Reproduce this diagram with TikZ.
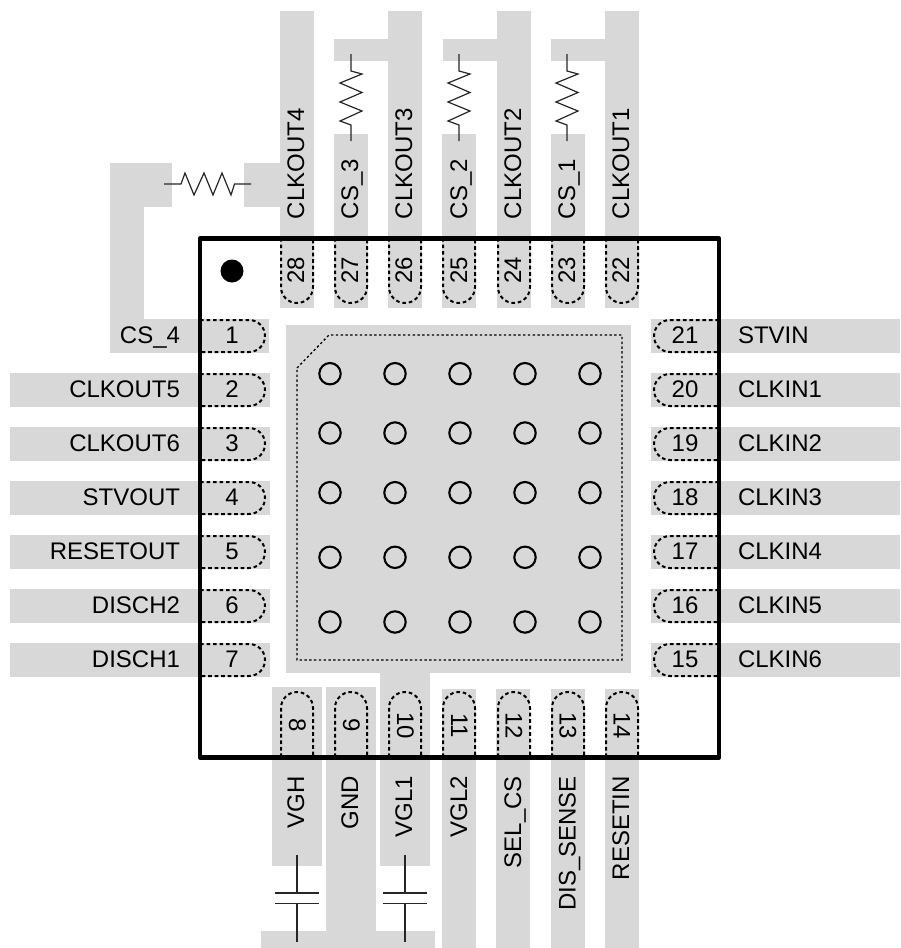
\documentclass[tikz,border=0pt]{standalone}
\usepackage{fontspec}
\setmainfont{Liberation Sans}
\definecolor{cu}{HTML}{D8D8D8}
\tikzset{
  x=1pt,y=-1pt,
  copper/.style={fill=cu,draw=none},
  padline/.style={draw=black,line width=2pt,dash pattern=on 3.6pt off 2.9pt,rounded corners=15.9pt},
  epadline/.style={draw=black,line width=1.3pt,dash pattern=on 2.4pt off 2.4pt},
  chipline/.style={draw=black,line width=4.6pt,line join=round},
  via/.style={draw=black,line width=2.1pt},
  part/.style={draw=black!85,line width=1.2pt},
  lbl/.style={inner sep=0pt,outer sep=0pt,font=\fontsize{24}{28}\selectfont,text=black},
  lblV/.style={lbl,rotate=90,anchor=base west},
  lblVb/.style={lbl,rotate=90,anchor=base east},
  lblL/.style={lbl,anchor=base east},
  lblR/.style={lbl,anchor=base west},
  numH/.style={lbl,anchor=base},
  numU/.style={lbl,rotate=90,anchor=base},
  numD/.style={lbl,rotate=-90,anchor=base},
}
\begin{document}
\begin{tikzpicture}
\useasboundingbox (0,0) rectangle (900,948);
% ---- copper: top
\fill[copper] (280,11) rectangle (314,308);
\fill[copper] (334,134) rectangle (368,308);
\fill[copper] (388,11) rectangle (422,308);
\fill[copper] (442,134) rectangle (476,308);
\fill[copper] (497,11) rectangle (531,308);
\fill[copper] (551,134) rectangle (585,308);
\fill[copper] (605,11) rectangle (639,308);
\fill[copper] (334,39) rectangle (388,61);
\fill[copper] (443,39) rectangle (497,61);
\fill[copper] (551,39) rectangle (605,61);
% ---- copper: CS_4 route
\fill[copper] (244,163) rectangle (280,207);
\fill[copper] (110,163) rectangle (172,207);
\fill[copper] (110,163) rectangle (144,319);
% ---- copper: left and right
\fill[copper] (110,319) rectangle (269,353);
\foreach \y in {373,427,481,535,589,643}{
  \fill[copper] (10,\y) rectangle (270,\y+34);
}
\foreach \y in {319,373,427,481,535,589,643}{
  \fill[copper] (651,\y) rectangle (900,\y+34);
}
% ---- copper: exposed pad
\fill[copper] (286,325) rectangle (631,673);
% ---- copper: bottom
\fill[copper] (272,687) rectangle (322,866);
\fill[copper] (326,687) rectangle (376,931);
\fill[copper] (380,673) rectangle (430,866);
\fill[copper] (261,931) rectangle (435,948);
\fill[copper] (442,689) rectangle (476,948);
\fill[copper] (496,689) rectangle (530,948);
\fill[copper] (551,689) rectangle (585,948);
\fill[copper] (605,689) rectangle (639,948);
% ---- exposed pad outline and vias
\draw[epadline] (297,368) -- (329,335) -- (622,335) -- (622,660) -- (297,660) -- cycle;
\foreach \vy in {373.7,433,492.7,557.3,622}{
  \foreach \vx in {330,395,460,525,590}{
    \draw[via] (\vx,\vy) circle[radius=10.7pt];
  }
}
% ---- pad outlines
\foreach \y in {320,374,428,482,536,590,644}{
  \draw[padline] (200,\y) -- (265,\y) -- (265,\y+32) -- (200,\y+32);
  \draw[padline] (719,\y) -- (654,\y) -- (654,\y+32) -- (719,\y+32);
}
\foreach \x in {297,351,405,459,514,568,622}{
  \draw[padline] (\x-16,238) -- (\x-16,303) -- (\x+16,303) -- (\x+16,238);
  \draw[padline] (\x-16,757) -- (\x-16,692) -- (\x+16,692) -- (\x+16,757);
}
% ---- package
\draw[chipline] (200,238.7) rectangle (719,757.3);
\fill[black] (232,271) circle[radius=11.5pt];
% ---- resistors
\draw[part] (164,184) -- (181,184) -- (185,173) -- (194,195) -- (204,173) -- (213,195) -- (222,173) -- (231,195) -- (234.5,184) -- (251,184);
\foreach \rx in {351,459,567}{
  \draw[part] (\rx,54) -- (\rx,71) -- (\rx+11,74) -- (\rx-11,83) -- (\rx+11,92.5) -- (\rx-11,102) -- (\rx+11,111) -- (\rx-11,121) -- (\rx,125) -- (\rx,141);
}
% ---- capacitors
\foreach \cx in {297,405}{
  \draw[part] (\cx,855) -- (\cx,893);
  \draw[part] (\cx-22,893) -- (\cx+22,893);
  \draw[part] (\cx-22,903.5) -- (\cx+22,903.5);
  \draw[part] (\cx,903.5) -- (\cx,942);
}
% ---- top labels
\node[lblV] (tCLKOUT4) at (304,219) {CLKOUT4};
\node[lblV] (tCSthree) at (358,219) {CS\_3};
\node[lblV] (tCLKOUT3) at (412,219) {CLKOUT3};
\node[lblV] (tCStwo) at (467,219) {CS\_2};
\node[lblV] (tCLKOUT2) at (521,219) {CLKOUT2};
\node[lblV] (tCSone) at (575,219) {CS\_1};
\node[lblV] (tCLKOUT1) at (629,219) {CLKOUT1};
% ---- top numbers
\node[numU] (n28) at (304,270.5) {28};
\node[numU] (n27) at (358,270.5) {27};
\node[numU] (n26) at (412,270.5) {26};
\node[numU] (n25) at (467,270.5) {25};
\node[numU] (n24) at (521,270.5) {24};
\node[numU] (n23) at (575,270.5) {23};
\node[numU] (n22) at (629,270.5) {22};
% ---- left labels and numbers
\node[lblL] (lCSfour) at (180,343) {CS\_4};
\node[lblL] (lCLKOUT5) at (180,397) {CLKOUT5};
\node[lblL] (lCLKOUT6) at (180,451) {CLKOUT6};
\node[lblL] (lSTVOUT) at (180,505) {STVOUT};
\node[lblL] (lRESETOUT) at (180,559) {RESETOUT};
\node[lblL] (lDISCH2) at (180,613) {DISCH2};
\node[lblL] (lDISCH1) at (180,667) {DISCH1};
\node[numH] (n1) at (232,343) {1};
\node[numH] (n2) at (232,397) {2};
\node[numH] (n3) at (232,451) {3};
\node[numH] (n4) at (232,505) {4};
\node[numH] (n5) at (232,559) {5};
\node[numH] (n6) at (232,613) {6};
\node[numH] (n7) at (232,667) {7};
% ---- right labels and numbers
\node[lblR] (rSTVIN) at (738,343) {STVIN};
\node[lblR] (rCLKIN1) at (738,397) {CLKIN1};
\node[lblR] (rCLKIN2) at (738,451) {CLKIN2};
\node[lblR] (rCLKIN3) at (738,505) {CLKIN3};
\node[lblR] (rCLKIN4) at (738,559) {CLKIN4};
\node[lblR] (rCLKIN5) at (738,613) {CLKIN5};
\node[lblR] (rCLKIN6) at (738,667) {CLKIN6};
\node[numH] (n21) at (685,343) {21};
\node[numH] (n20) at (685,397) {20};
\node[numH] (n19) at (685,451) {19};
\node[numH] (n18) at (685,505) {18};
\node[numH] (n17) at (685,559) {17};
\node[numH] (n16) at (685,613) {16};
\node[numH] (n15) at (685,667) {15};
% ---- bottom numbers
\node[numD] (n8) at (289,725.5) {8};
\node[numD] (n9) at (343,725.5) {9};
\node[numD] (n10) at (397,725.5) {10};
\node[numD] (n11) at (451,725.5) {11};
\node[numD] (n12) at (505.5,725.5) {12};
\node[numD] (n13) at (559.5,725.5) {13};
\node[numD] (n14) at (613.5,725.5) {14};
% ---- bottom labels
\node[lblVb] (bVGH) at (304,776) {VGH};
\node[lblVb] (bGND) at (358,776) {GND};
\node[lblVb] (bVGL1) at (412,776) {VGL1};
\node[lblVb] (bVGL2) at (467,776) {VGL2};
\node[lblVb] (bSELCS) at (521,776) {SEL\_CS};
\node[lblVb] (bDISSENSE) at (575.5,776) {DIS\_SENSE};
\node[lblVb] (bRESETIN) at (629,776) {RESETIN};
\end{tikzpicture}
\end{document}
